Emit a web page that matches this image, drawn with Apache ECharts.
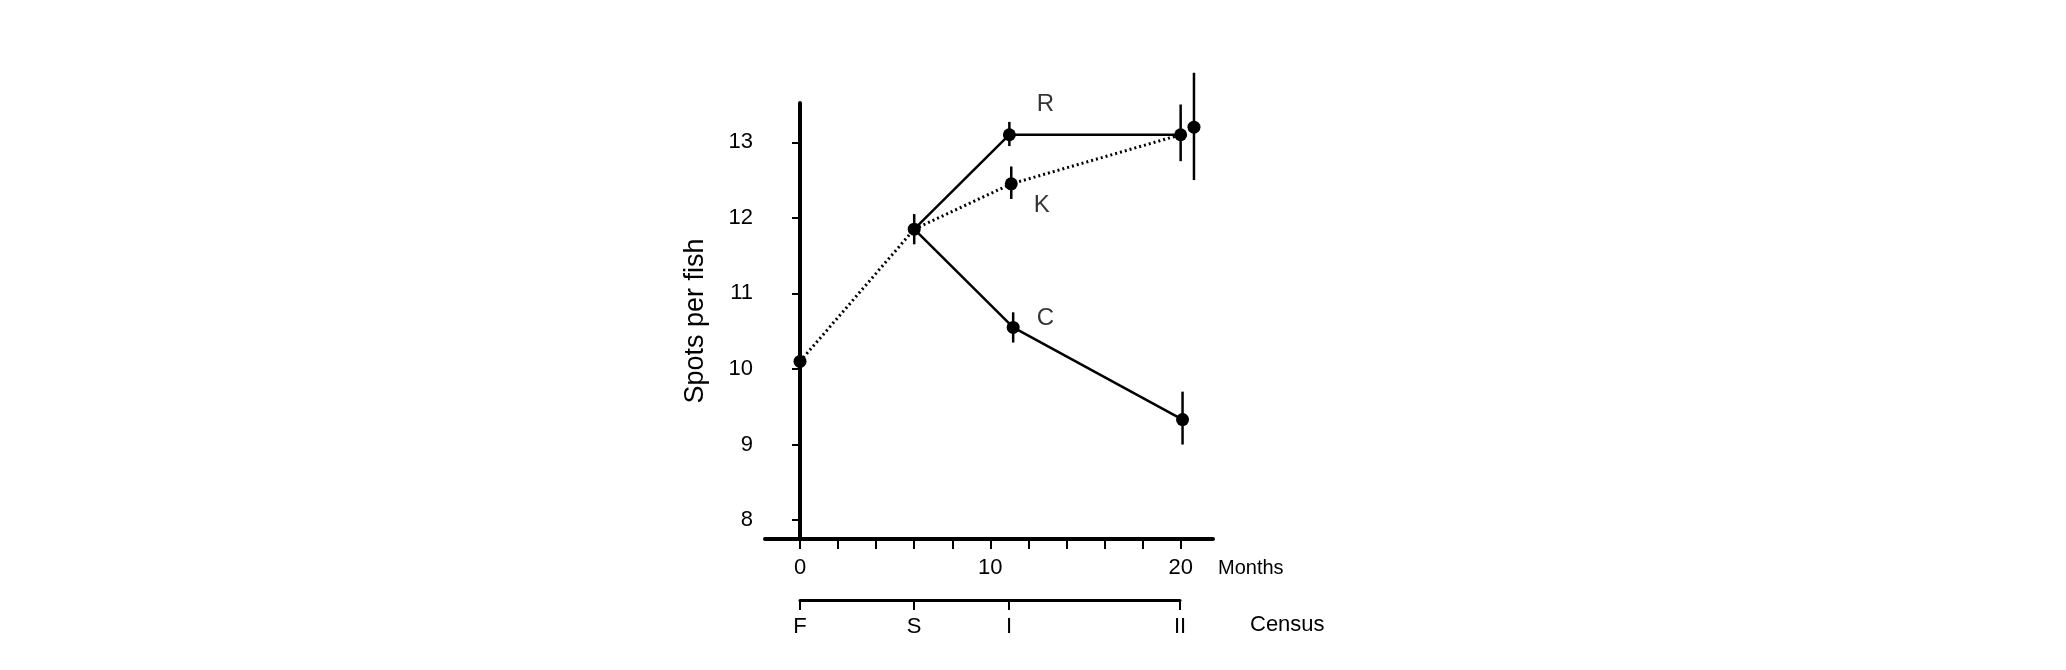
<!DOCTYPE html>
<html><head><meta charset="utf-8">
<script src="https://cdn.jsdelivr.net/npm/echarts@6/dist/echarts.min.js"></script>
<style>html,body{margin:0;background:#fff}#c{width:2066px;height:670px}</style>
</head><body><div id="c"></div>
<script>
const seriesR = [[6,11.85],[11,13.1],[20,13.1]];
const seriesC = [[6,11.85],[11.2,10.55],[20.1,9.33]];
const seriesK = [[0,10.1],[6,11.85],[11.1,12.45],[20,13.1]];
// points: x, mean, low, high
const points = [
  [0,10.1,8.27,11.85],
  [6,11.85,11.65,12.05],
  [11,13.1,12.95,13.27],
  [20,13.1,12.75,13.5],
  [11.1,12.45,12.25,12.68],
  [20.7,13.2,12.5,13.92],
  [11.2,10.55,10.35,10.75],
  [20.1,9.33,9.0,9.7]
];
const seriesLabels = [[12.9,13.5,'R'],[12.7,12.17,'K'],[12.9,10.67,'C']];
const yTicks = [8,9,10,11,12,13];
const monthLabels = [0,10,20];
const monthTicks = [0,2,4,6,8,10,12,14,16,18,20];
const censusTicks = [0,6,11,20];
const censusNames = ['F','S','I','II'];

const F = 'Liberation Sans, Arial, sans-serif';
const lineW = 2.5;
const chart = echarts.init(document.getElementById('c'));
chart.setOption({
  animation:false,
  grid:[{left:765,right:853,top:103,bottom:131},{left:800,right:886,top:599,height:1}],
  xAxis:[{gridIndex:0,type:'value',min:-1.84,max:21.7,
    axisLine:{lineStyle:{color:'#000',width:4}},
    axisTick:{customValues:monthTicks,length:10,lineStyle:{color:'#000',width:2}},
    axisLabel:{customValues:monthLabels,color:'#000',fontSize:22,fontFamily:F,margin:18},
    splitLine:{show:false}},
   {gridIndex:1,type:'value',min:0,max:20,
    axisLine:{lineStyle:{color:'#000',width:3}},
    axisTick:{customValues:censusTicks,length:10,lineStyle:{color:'#000',width:2}},
    axisLabel:{customValues:censusTicks,color:'#000',fontSize:22,fontFamily:F,margin:16,
      formatter:v=>censusNames[censusTicks.indexOf(v)]},
    splitLine:{show:false}}],
  yAxis:[{gridIndex:0,type:'value',min:7.75,max:13.52,
    name:'Spots per fish',nameLocation:'middle',nameGap:56,
    nameTextStyle:{color:'#000',fontSize:27,fontFamily:F},
    axisLine:{show:true,lineStyle:{color:'#000',width:4}},
    axisTick:{customValues:yTicks,length:8,lineStyle:{color:'#000',width:2}},
    axisLabel:{customValues:yTicks,color:'#000',fontSize:22,fontFamily:F,margin:12},
    splitLine:{show:false}},
   {gridIndex:1,type:'value',show:false}],
  graphic:[
    {type:'text',left:1218,top:558,style:{text:'Months',fontSize:20,fontFamily:F,fill:'#000'}},
    {type:'text',left:1250,top:614,style:{text:'Census',fontSize:22,fontFamily:F,fill:'#000'}}
  ],
  series:[
    {type:'line',data:seriesK,symbol:'none',lineStyle:{color:'#000',width:lineW+0.5,type:[2,3]}},
    {type:'line',data:seriesR,symbol:'none',lineStyle:{color:'#000',width:lineW}},
    {type:'line',data:seriesC,symbol:'none',lineStyle:{color:'#000',width:lineW}},
    {type:'custom',data:points,renderItem:(p,api)=>{
      const a=api.coord([api.value(0),api.value(2)]), b=api.coord([api.value(0),api.value(3)]);
      const c=api.coord([api.value(0),api.value(1)]);
      return {type:'group',children:[
        {type:'line',shape:{x1:a[0],y1:a[1],x2:b[0],y2:b[1]},style:{stroke:'#000',lineWidth:2.5}},
        {type:'circle',shape:{cx:c[0],cy:c[1],r:6.5},style:{fill:'#000'}}]};
    },encode:{x:0,y:[1,2,3]}},
    {type:'scatter',data:seriesLabels,symbolSize:0,
      label:{show:true,position:'inside',formatter:p=>p.data[2],color:'#000',fontSize:24,fontFamily:F}}
  ]
});
</script></body></html>
